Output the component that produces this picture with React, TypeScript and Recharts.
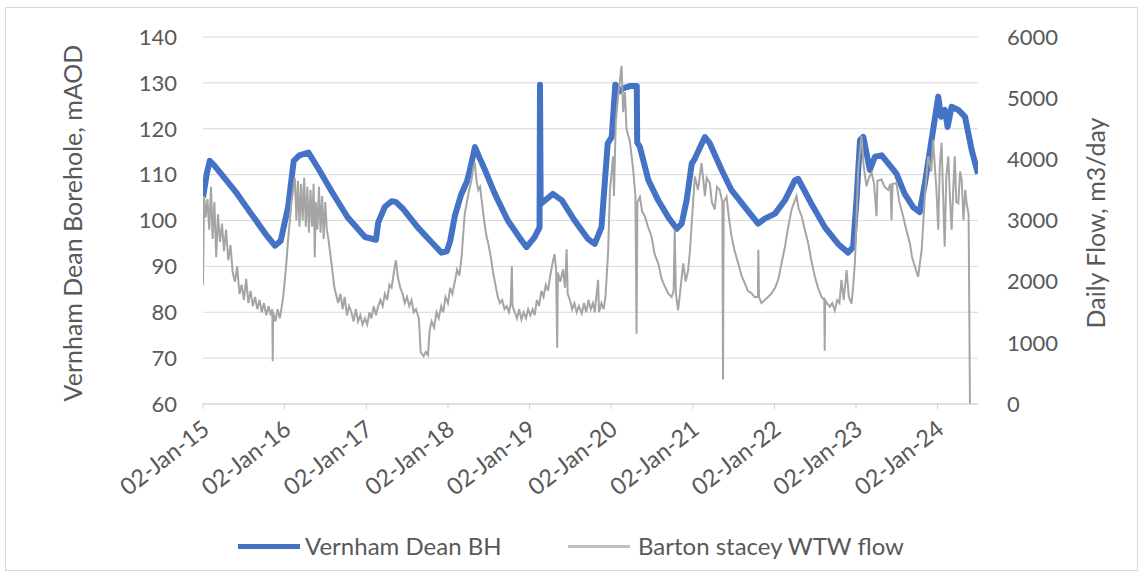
import { CartesianGrid, Label, Legend, Line, LineChart, XAxis, YAxis } from "recharts";

// Vernham Dean borehole level, mAOD
const BH_LEVEL: [string, number][] = [
  ["2015-01-02", 105.0], ["2015-01-20", 110.5], ["2015-02-01", 113.0], ["2015-02-21", 112.0],
  ["2015-03-27", 110.0], ["2015-06-01", 106.0], ["2015-08-05", 101.5], ["2015-10-10", 97.0],
  ["2015-11-20", 94.5], ["2015-12-16", 95.6], ["2016-01-18", 103.0], ["2016-02-12", 113.0],
  ["2016-03-08", 114.2], ["2016-04-18", 114.8], ["2016-05-30", 111.5], ["2016-08-04", 106.0],
  ["2016-10-10", 100.7], ["2016-12-27", 96.4], ["2017-02-14", 95.8], ["2017-02-24", 99.6],
  ["2017-03-26", 103.0], ["2017-04-25", 104.2], ["2017-05-15", 104.0], ["2017-06-16", 102.5],
  ["2017-08-20", 98.5], ["2017-10-26", 95.0], ["2017-12-04", 93.0], ["2017-12-28", 93.3],
  ["2018-01-12", 95.5], ["2018-02-02", 101.0], ["2018-03-01", 105.5], ["2018-03-28", 108.5],
  ["2018-04-08", 110.5], ["2018-05-03", 116.0], ["2018-05-25", 113.5], ["2018-06-17", 111.0],
  ["2018-07-31", 105.8], ["2018-09-27", 100.0], ["2018-11-28", 95.6], ["2018-12-20", 94.2],
  ["2019-01-25", 96.4], ["2019-02-16", 98.5], ["2019-02-18", 129.6], ["2019-02-21", 103.6],
  ["2019-04-17", 105.8], ["2019-05-27", 104.4], ["2019-07-23", 100.0], ["2019-09-20", 96.0],
  ["2019-10-21", 94.9], ["2019-11-20", 98.5], ["2019-12-18", 116.8], ["2020-01-05", 118.2],
  ["2020-01-21", 129.6], ["2020-02-10", 128.2], ["2020-02-24", 128.8], ["2020-03-26", 129.3],
  ["2020-04-26", 129.3], ["2020-04-28", 117.0], ["2020-05-10", 116.0], ["2020-06-17", 108.8],
  ["2020-07-31", 104.4], ["2020-09-14", 100.7], ["2020-10-22", 98.2], ["2020-11-13", 99.3],
  ["2020-12-05", 104.4], ["2020-12-28", 112.4], ["2021-01-11", 113.5], ["2021-02-04", 116.0],
  ["2021-02-25", 118.2], ["2021-03-19", 116.8], ["2021-05-11", 111.0], ["2021-06-24", 106.6],
  ["2021-08-23", 102.9], ["2021-10-21", 99.3], ["2021-11-20", 100.4], ["2022-01-05", 101.5],
  ["2022-02-18", 104.4], ["2022-04-04", 108.8], ["2022-04-18", 109.1], ["2022-06-17", 103.6],
  ["2022-08-16", 98.5], ["2022-10-14", 94.9], ["2022-11-28", 93.0], ["2022-12-20", 94.2],
  ["2023-01-05", 105.0], ["2023-01-20", 117.5], ["2023-02-04", 118.2], ["2023-03-05", 111.0],
  ["2023-03-28", 113.9], ["2023-04-27", 114.2], ["2023-05-27", 112.4], ["2023-07-02", 110.2],
  ["2023-08-08", 105.8], ["2023-09-15", 102.9], ["2023-10-14", 101.8], ["2023-11-06", 108.0],
  ["2023-12-06", 117.5], ["2024-01-05", 127.0], ["2024-01-18", 122.6], ["2024-02-04", 124.1],
  ["2024-02-16", 120.4], ["2024-03-05", 124.8], ["2024-04-04", 124.1], ["2024-05-04", 122.6],
  ["2024-06-03", 115.3], ["2024-07-01", 110.2],
];

// Barton Stacey WTW daily flow, m3/day
const WTW_FLOW: [string, number][] = [
  ["2015-01-02", 1950], ["2015-01-07", 3400], ["2015-01-14", 3050], ["2015-01-22", 3350],
  ["2015-01-30", 2850], ["2015-02-07", 3550], ["2015-02-14", 2700], ["2015-02-22", 3300],
  ["2015-03-02", 2400], ["2015-03-10", 3100], ["2015-03-19", 2650], ["2015-03-28", 2950],
  ["2015-04-06", 2500], ["2015-04-15", 2850], ["2015-04-25", 2350], ["2015-05-05", 2600],
  ["2015-05-15", 2150], ["2015-05-25", 2000], ["2015-06-04", 2250], ["2015-06-14", 1800],
  ["2015-06-24", 1950], ["2015-07-04", 1700], ["2015-07-14", 2050], ["2015-07-24", 1650],
  ["2015-08-03", 1850], ["2015-08-13", 1600], ["2015-08-23", 1750], ["2015-09-02", 1550],
  ["2015-09-12", 1700], ["2015-09-22", 1500], ["2015-10-02", 1650], ["2015-10-12", 1450],
  ["2015-10-22", 1600], ["2015-11-01", 1450], ["2015-11-08", 1550], ["2015-11-10", 700],
  ["2015-11-12", 1500], ["2015-11-22", 1350], ["2015-12-02", 1550], ["2015-12-12", 1400],
  ["2015-12-27", 1750], ["2016-01-10", 2300], ["2016-01-17", 2650], ["2016-02-02", 3300],
  ["2016-02-17", 3700], ["2016-02-24", 3000], ["2016-03-02", 3650], ["2016-03-09", 2900],
  ["2016-03-16", 3600], ["2016-03-23", 3000], ["2016-03-30", 3700], ["2016-04-06", 2900],
  ["2016-04-13", 3550], ["2016-04-20", 2800], ["2016-04-27", 3500], ["2016-05-04", 2900],
  ["2016-05-11", 3600], ["2016-05-16", 2400], ["2016-05-21", 3300], ["2016-05-28", 2850],
  ["2016-06-04", 3550], ["2016-06-11", 2800], ["2016-06-18", 3400], ["2016-06-25", 2700],
  ["2016-07-02", 3300], ["2016-07-09", 2850], ["2016-07-16", 2700], ["2016-07-30", 2300],
  ["2016-08-12", 1900], ["2016-08-29", 1650], ["2016-09-08", 1800], ["2016-09-18", 1550],
  ["2016-09-27", 1750], ["2016-10-07", 1450], ["2016-10-17", 1600], ["2016-10-27", 1500],
  ["2016-11-06", 1350], ["2016-11-16", 1550], ["2016-11-26", 1350], ["2016-12-06", 1450],
  ["2016-12-16", 1300], ["2016-12-27", 1400], ["2017-01-06", 1300], ["2017-01-16", 1500],
  ["2017-01-25", 1400], ["2017-02-04", 1600], ["2017-02-14", 1450], ["2017-02-24", 1600],
  ["2017-03-06", 1700], ["2017-03-16", 1600], ["2017-03-26", 1800], ["2017-04-05", 1700],
  ["2017-04-15", 1950], ["2017-04-25", 1900], ["2017-05-05", 2150], ["2017-05-14", 2350],
  ["2017-05-24", 2050], ["2017-06-03", 1900], ["2017-06-13", 1800], ["2017-06-23", 1650],
  ["2017-07-03", 1750], ["2017-07-13", 1600], ["2017-07-23", 1700], ["2017-08-02", 1500],
  ["2017-08-12", 1550], ["2017-08-25", 1400], ["2017-09-02", 850], ["2017-09-15", 780],
  ["2017-09-25", 850], ["2017-10-05", 800], ["2017-10-12", 1200], ["2017-10-21", 1350],
  ["2017-11-01", 1250], ["2017-11-12", 1500], ["2017-11-22", 1400], ["2017-12-03", 1600],
  ["2017-12-12", 1500], ["2017-12-22", 1750], ["2018-01-02", 1650], ["2018-01-12", 1900],
  ["2018-01-22", 1800], ["2018-02-02", 2000], ["2018-02-12", 2200], ["2018-02-22", 2100],
  ["2018-03-04", 2400], ["2018-03-11", 2750], ["2018-03-18", 3100], ["2018-03-28", 3300],
  ["2018-04-07", 3500], ["2018-04-17", 3650], ["2018-04-25", 3850], ["2018-05-02", 3950],
  ["2018-05-10", 3650], ["2018-05-18", 3500], ["2018-05-26", 3550], ["2018-06-03", 3300],
  ["2018-06-13", 3000], ["2018-06-23", 2750], ["2018-07-03", 2600], ["2018-07-13", 2400],
  ["2018-07-23", 2150], ["2018-07-31", 2000], ["2018-08-13", 1750], ["2018-08-23", 1650],
  ["2018-09-02", 1700], ["2018-09-12", 1550], ["2018-09-22", 1600], ["2018-10-02", 1500],
  ["2018-10-10", 1650], ["2018-10-15", 2250], ["2018-10-18", 1600], ["2018-10-28", 1500],
  ["2018-11-07", 1400], ["2018-11-17", 1550], ["2018-11-27", 1380], ["2018-12-07", 1500],
  ["2018-12-17", 1400], ["2018-12-27", 1550], ["2019-01-06", 1450], ["2019-01-16", 1550],
  ["2019-01-25", 1450], ["2019-02-04", 1700], ["2019-02-14", 1600], ["2019-02-24", 1850],
  ["2019-03-06", 1750], ["2019-03-16", 1950], ["2019-03-26", 1850], ["2019-04-05", 2100],
  ["2019-04-15", 2300], ["2019-04-24", 2450], ["2019-05-01", 2200], ["2019-05-06", 920],
  ["2019-05-09", 2150], ["2019-05-20", 2000], ["2019-06-01", 2200], ["2019-06-10", 1900],
  ["2019-06-17", 2530], ["2019-06-22", 1800], ["2019-07-02", 1700], ["2019-07-12", 1550],
  ["2019-07-22", 1650], ["2019-08-01", 1500], ["2019-08-11", 1600], ["2019-08-24", 1480],
  ["2019-09-03", 1650], ["2019-09-13", 1500], ["2019-09-23", 1700], ["2019-10-03", 1550],
  ["2019-10-13", 1650], ["2019-10-21", 1500], ["2019-11-05", 2030], ["2019-11-09", 1500],
  ["2019-11-20", 1650], ["2019-11-30", 1550], ["2019-12-08", 1750], ["2019-12-20", 2500],
  ["2019-12-28", 3500], ["2020-01-11", 4050], ["2020-01-15", 3400], ["2020-01-23", 4600],
  ["2020-02-03", 5040], ["2020-02-18", 5530], ["2020-02-25", 4770], ["2020-03-04", 5100],
  ["2020-03-11", 4500], ["2020-03-18", 4400], ["2020-03-26", 4300], ["2020-04-10", 3830],
  ["2020-04-20", 3400], ["2020-04-25", 1150], ["2020-04-29", 3300], ["2020-05-10", 3390],
  ["2020-05-20", 3150], ["2020-06-01", 3070], ["2020-06-15", 2900], ["2020-07-01", 2740],
  ["2020-07-15", 2450], ["2020-07-31", 2300], ["2020-08-15", 2050], ["2020-08-30", 1920],
  ["2020-09-15", 1800], ["2020-09-29", 1750], ["2020-10-08", 1850], ["2020-10-13", 2850],
  ["2020-10-18", 1800], ["2020-10-28", 1530], ["2020-11-08", 1900], ["2020-11-20", 2300],
  ["2020-12-01", 2000], ["2020-12-12", 2190], ["2020-12-20", 2500], ["2020-12-28", 2960],
  ["2021-01-11", 3720], ["2021-01-25", 3500], ["2021-02-10", 3940], ["2021-02-25", 3400],
  ["2021-03-05", 3700], ["2021-03-19", 3610], ["2021-03-28", 3300], ["2021-04-10", 3180],
  ["2021-04-20", 3550], ["2021-05-02", 3500], ["2021-05-14", 3300], ["2021-05-17", 400],
  ["2021-05-20", 3300], ["2021-06-02", 3390], ["2021-06-12", 3050], ["2021-06-24", 2740],
  ["2021-07-08", 2500], ["2021-07-24", 2300], ["2021-08-08", 2100], ["2021-08-23", 1970],
  ["2021-09-05", 1850], ["2021-09-22", 1810], ["2021-10-05", 1750], ["2021-10-20", 1750],
  ["2021-10-22", 2520], ["2021-10-25", 1750], ["2021-11-05", 1650], ["2021-11-20", 1700],
  ["2021-12-05", 1750], ["2021-12-20", 1810], ["2022-01-05", 1900], ["2022-01-19", 2030],
  ["2022-02-03", 2300], ["2022-02-18", 2570], ["2022-03-05", 2900], ["2022-03-20", 3180],
  ["2022-04-11", 3400], ["2022-04-20", 3200], ["2022-05-04", 3070], ["2022-05-18", 2850],
  ["2022-06-02", 2630], ["2022-06-16", 2350], ["2022-07-02", 2080], ["2022-07-16", 1900],
  ["2022-08-01", 1750], ["2022-08-13", 1700], ["2022-08-15", 870], ["2022-08-17", 1700],
  ["2022-08-25", 1650], ["2022-09-07", 1590], ["2022-09-18", 1650], ["2022-09-29", 1530],
  ["2022-10-10", 1700], ["2022-10-20", 1650], ["2022-10-29", 2030], ["2022-11-08", 1700],
  ["2022-11-21", 2190], ["2022-12-01", 1750], ["2022-12-13", 1640], ["2022-12-20", 1900],
  ["2022-12-28", 2300], ["2023-01-05", 3100], ["2023-01-12", 3830], ["2023-01-27", 4380],
  ["2023-02-05", 3900], ["2023-02-18", 3560], ["2023-03-01", 3700], ["2023-03-13", 3780],
  ["2023-03-24", 3600], ["2023-04-04", 3070], ["2023-04-08", 3650], ["2023-04-26", 3670],
  ["2023-05-10", 3550], ["2023-05-26", 3500], ["2023-06-05", 3600], ["2023-06-10", 3010],
  ["2023-06-15", 3600], ["2023-07-02", 3610], ["2023-07-15", 3300], ["2023-08-01", 3070],
  ["2023-08-15", 2850], ["2023-08-31", 2630], ["2023-09-10", 2400], ["2023-09-23", 2240],
  ["2023-10-07", 2080], ["2023-10-23", 2520], ["2023-11-06", 3390], ["2023-11-21", 4050],
  ["2023-12-05", 3800], ["2023-12-13", 4320], ["2023-12-28", 3500], ["2024-01-05", 2850],
  ["2024-01-12", 3900], ["2024-01-20", 4270], ["2024-01-27", 3400], ["2024-02-03", 2570],
  ["2024-02-10", 3700], ["2024-02-19", 4050], ["2024-02-26", 3400], ["2024-03-05", 2850],
  ["2024-03-12", 3500], ["2024-03-19", 4050], ["2024-03-26", 3300], ["2024-04-04", 3280],
  ["2024-04-12", 3800], ["2024-04-19", 3670], ["2024-04-27", 3000], ["2024-05-05", 3500],
  ["2024-05-11", 3280], ["2024-05-20", 3100], ["2024-05-26", 0],
];

const YEAR_TICKS = [
  "2015-01-02", "2016-01-02", "2017-01-02", "2018-01-02", "2019-01-02",
  "2020-01-02", "2021-01-02", "2022-01-02", "2023-01-02", "2024-01-02",
];
const LEVEL_TICKS = [60, 70, 80, 90, 100, 110, 120, 130, 140];
const FLOW_TICKS = [0, 1000, 2000, 3000, 4000, 5000, 6000];
const X_START = "2015-01-02";
const X_END = "2024-07-01";
const MONTHS = ["Jan", "Feb", "Mar", "Apr", "May", "Jun", "Jul", "Aug", "Sep", "Oct", "Nov", "Dec"];

const toTime = (d: string) => Date.parse(d);
const fmtDate = (t: number) => {
  const d = new Date(t);
  return `${String(d.getUTCDate()).padStart(2, "0")}-${MONTHS[d.getUTCMonth()]}-${String(d.getUTCFullYear()).slice(2)}`;
};

const levelData = BH_LEVEL.map(([d, v]) => ({ t: toTime(d), level: v }));
const flowData = WTW_FLOW.map(([d, v]) => ({ t: toTime(d), flow: v }));

const FONT = "Lato, 'Open Sans', sans-serif";
const TEXT = "#595959";
const BLUE = "#4472C4";
const GREY = "#A5A5A5";

const W = 1131;
const H = 562;
const PLOT_TOP = 29;
const PLOT_BOTTOM = 395;

function DateTick({ x, y, payload }: any) {
  return (
    <g transform={`translate(${x + 8},${y + 19})`}>
      <text textAnchor="end" transform="rotate(-38)" fontSize={23.5} fill={TEXT} fontFamily={FONT}>
        {fmtDate(payload.value)}
      </text>
    </g>
  );
}

function AxisTitle({ x, text }: { x: number; text: string }) {
  const y = (PLOT_TOP + PLOT_BOTTOM) / 2 + 3;
  return (
    <text
      x={x}
      y={y}
      transform={`rotate(-90 ${x} ${y})`}
      textAnchor="middle"
      dominantBaseline="central"
      fontSize={25}
      fill={TEXT}
      fontFamily={FONT}
    >
      {text}
    </text>
  );
}

function LegendRow() {
  return (
    <div style={{ position: "relative", height: 32, fontFamily: FONT, fontSize: 24, color: TEXT }}>
      <span style={{ position: "absolute", left: 0, top: 14, width: 62, height: 5, background: BLUE }} />
      <span style={{ position: "absolute", left: 67, top: 1, lineHeight: "30px", whiteSpace: "nowrap" }}>
        Vernham Dean BH
      </span>
      <span style={{ position: "absolute", left: 330, top: 15, width: 62, height: 3, background: "#BFBFBF" }} />
      <span style={{ position: "absolute", left: 400, top: 1, lineHeight: "30px", whiteSpace: "nowrap" }}>
        Barton stacey WTW flow
      </span>
    </div>
  );
}

export default function App() {
  return (
    <div
      style={{
        position: "absolute",
        left: 5,
        top: 7,
        width: W,
        height: H,
        border: "1px solid #d9d9d9",
        background: "#fff",
      }}
    >
      <LineChart width={W} height={H} margin={{ top: PLOT_TOP, right: 99, bottom: 34, left: 137 }}>
        <CartesianGrid vertical={false} stroke="#d9d9d9" yAxisId="level" />
        <XAxis
          dataKey="t"
          type="number"
          domain={[toTime(X_START), toTime(X_END)]}
          ticks={YEAR_TICKS.map(toTime)}
          interval={0}
          allowDataOverflow
          height={100}
          tick={<DateTick />}
          tickSize={5}
          tickMargin={4}
          stroke="#d0d0d0"
        />
        <YAxis
          yAxisId="level"
          domain={[60, 140]}
          ticks={LEVEL_TICKS}
          width={60}
          axisLine={false}
          tickLine={false}
          tickMargin={20}
          tick={{ fontSize: 22, fill: TEXT, fontFamily: FONT }}
        >
          <Label content={() => <AxisTitle x={66} text="Vernham Dean Borehole, mAOD" />} />
        </YAxis>
        <YAxis
          yAxisId="flow"
          orientation="right"
          domain={[0, 6000]}
          ticks={FLOW_TICKS}
          width={60}
          axisLine={false}
          tickLine={false}
          tickMargin={23}
          tick={{ fontSize: 22, fill: TEXT, fontFamily: FONT, textAnchor: "start" }}
        >
          <Label content={() => <AxisTitle x={1089} text="Daily Flow, m3/day" />} />
        </YAxis>
        <Line
          yAxisId="level"
          data={levelData}
          dataKey="level"
          name="Vernham Dean BH"
          type="linear"
          stroke={BLUE}
          strokeWidth={6}
          strokeLinejoin="round"
          dot={false}
          activeDot={false}
          isAnimationActive={false}
        />
        <Line
          yAxisId="flow"
          data={flowData}
          dataKey="flow"
          name="Barton stacey WTW flow"
          type="linear"
          stroke={GREY}
          strokeWidth={2}
          dot={false}
          activeDot={false}
          isAnimationActive={false}
        />
        <Legend
          verticalAlign="bottom"
          wrapperStyle={{ left: 232, top: 522, width: 720, height: 32, bottom: "auto" }}
          content={() => <LegendRow />}
        />
      </LineChart>
    </div>
  );
}
